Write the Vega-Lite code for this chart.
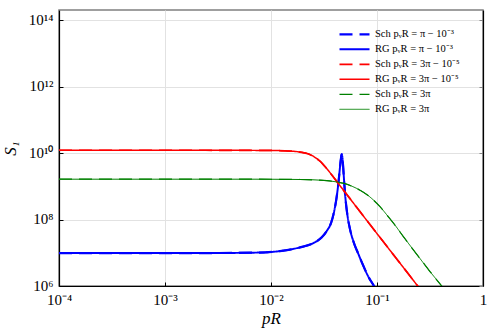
{
  "$schema": "https://vega.github.io/schema/vega-lite/v6.json",
  "width": 424,
  "height": 276,
  "autosize": {"type": "none"},
  "padding": {"left": 59, "top": 10, "right": 10, "bottom": 43},
  "background": "white",
  "config": {
    "view": {"stroke": "#808080", "strokeWidth": 1.5},
    "font": "Liberation Serif",
    "axis": {
      "domainColor": "#000000",
      "domainWidth": 1.2,
      "gridColor": "#e2e2e2",
      "gridWidth": 1,
      "tickColor": "#000000",
      "tickSize": -4,
      "labelFont": "Liberation Serif",
      "labelFontSize": 15,
      "labelColor": "#000000",
      "titleFont": "Liberation Serif",
      "titleFontSize": 17,
      "titleFontStyle": "italic",
      "titleFontWeight": "normal",
      "titleColor": "#000000"
    },
    "legend": {
      "title": null,
      "orient": "none",
      "legendX": 279,
      "legendY": 18,
      "padding": 0,
      "symbolType": "stroke",
      "symbolSize": 900,
      "clipHeight": 12.6,
      "rowPadding": 2,
      "labelOffset": 4,
      "labelFont": "Liberation Serif",
      "labelFontSize": 10.5,
      "labelColor": "#000000"
    }
  },
  "data": {
    "values": [
      {"k":"a","p":1e-4,"S":9.82e6},{"k":"a","p":2.14e-3,"S":9.82e6},{"k":"a","p":7.87e-3,"S":1.018e7},{"k":"a","p":0.01216,"S":1.13e7},{"k":"a","p":0.01511,"S":1.253e7},{"k":"a","p":0.01877,"S":1.459e7},{"k":"a","p":0.02332,"S":1.771e7},{"k":"a","p":0.02716,"S":2.255e7},{"k":"a","p":0.03029,"S":2.98e7},{"k":"a","p":0.03376,"S":4.67e7},{"k":"a","p":0.03681,"S":7.85e7},{"k":"a","p":0.03929,"S":1.682e8},{"k":"a","p":0.04148,"S":4.43e8},{"k":"a","p":0.04333,"S":1.343e9},{"k":"a","p":0.04476,"S":3.79e9},{"k":"a","p":0.04575,"S":7.08e9},{"k":"a","p":0.04645,"S":9.33e9},{"k":"a","p":0.04726,"S":7.08e9},{"k":"a","p":0.04831,"S":2.69e9},{"k":"a","p":0.04989,"S":6.27e8},{"k":"a","p":0.05212,"S":1.682e8},{"k":"a","p":0.05562,"S":5.18e7},{"k":"a","p":0.06067,"S":1.963e7},{"k":"a","p":0.06618,"S":9.82e6},{"k":"a","p":0.07378,"S":4.28e6},{"k":"a","p":0.08225,"S":2.0e6},{"k":"a","p":0.09369,"S":1e6},{"k":"a","p":0.1022,"S":6.15e5},
      {"k":"b","p":1e-4,"S":9.82e6},{"k":"b","p":2.14e-3,"S":9.82e6},{"k":"b","p":7.87e-3,"S":1.018e7},{"k":"b","p":0.01216,"S":1.13e7},{"k":"b","p":0.01511,"S":1.253e7},{"k":"b","p":0.01877,"S":1.459e7},{"k":"b","p":0.02332,"S":1.771e7},{"k":"b","p":0.02716,"S":2.255e7},{"k":"b","p":0.03029,"S":2.98e7},{"k":"b","p":0.03376,"S":4.67e7},{"k":"b","p":0.03681,"S":7.85e7},{"k":"b","p":0.03929,"S":1.682e8},{"k":"b","p":0.04148,"S":4.43e8},{"k":"b","p":0.04333,"S":1.343e9},{"k":"b","p":0.04476,"S":3.79e9},{"k":"b","p":0.04575,"S":7.08e9},{"k":"b","p":0.04645,"S":9.33e9},{"k":"b","p":0.04726,"S":7.08e9},{"k":"b","p":0.04831,"S":2.69e9},{"k":"b","p":0.04989,"S":6.27e8},{"k":"b","p":0.05212,"S":1.682e8},{"k":"b","p":0.05562,"S":5.18e7},{"k":"b","p":0.06067,"S":1.963e7},{"k":"b","p":0.06618,"S":9.82e6},{"k":"b","p":0.07378,"S":4.28e6},{"k":"b","p":0.08225,"S":2.0e6},{"k":"b","p":0.09369,"S":1e6},{"k":"b","p":0.1022,"S":6.15e5},
      {"k":"c","p":1e-4,"S":1.23e10},{"k":"c","p":2.14e-3,"S":1.23e10},{"k":"c","p":9.78e-3,"S":1.213e10},{"k":"c","p":0.01511,"S":1.164e10},{"k":"c","p":0.01877,"S":1.086e10},{"k":"c","p":0.02234,"S":9.66e9},{"k":"c","p":0.02545,"S":7.85e9},{"k":"c","p":0.029,"S":5.75e9},{"k":"c","p":0.03304,"S":3.66e9},{"k":"c","p":0.03763,"S":2.18e9},{"k":"c","p":0.04476,"S":1.054e9},{"k":"c","p":0.05562,"S":4.29e8},{"k":"c","p":0.0859,"S":7.08e7},{"k":"c","p":0.1327,"S":1.186e7},{"k":"c","p":0.2048,"S":2.0e6},{"k":"c","p":0.2421,"S":1e6},{"k":"c","p":0.2836,"S":5.25e5},
      {"k":"d","p":1e-4,"S":1.23e10},{"k":"d","p":2.14e-3,"S":1.23e10},{"k":"d","p":9.78e-3,"S":1.213e10},{"k":"d","p":0.01511,"S":1.164e10},{"k":"d","p":0.01877,"S":1.086e10},{"k":"d","p":0.02234,"S":9.66e9},{"k":"d","p":0.02545,"S":7.85e9},{"k":"d","p":0.029,"S":5.75e9},{"k":"d","p":0.03304,"S":3.66e9},{"k":"d","p":0.03763,"S":2.18e9},{"k":"d","p":0.04476,"S":1.054e9},{"k":"d","p":0.05562,"S":4.29e8},{"k":"d","p":0.0859,"S":7.08e7},{"k":"d","p":0.1327,"S":1.186e7},{"k":"d","p":0.2048,"S":2.0e6},{"k":"d","p":0.2421,"S":1e6},{"k":"d","p":0.2836,"S":5.25e5},
      {"k":"e","p":1e-4,"S":1.652e9},{"k":"e","p":6.34e-3,"S":1.652e9},{"k":"e","p":0.01877,"S":1.618e9},{"k":"e","p":0.029,"S":1.542e9},{"k":"e","p":0.04016,"S":1.39e9},{"k":"e","p":0.04989,"S":1.21e9},{"k":"e","p":0.05936,"S":9.83e8},{"k":"e","p":0.06913,"S":7.71e8},{"k":"e","p":0.08046,"S":5.65e8},{"k":"e","p":0.09169,"S":4.0e8},{"k":"e","p":0.1067,"S":2.46e8},{"k":"e","p":0.1243,"S":1.366e8},{"k":"e","p":0.1478,"S":6.84e7},{"k":"e","p":0.1759,"S":3.19e7},{"k":"e","p":0.2139,"S":1.39e7},{"k":"e","p":0.2545,"S":6.72e6},{"k":"e","p":0.3162,"S":2.73e6},{"k":"e","p":0.4076,"S":1e6},{"k":"e","p":0.4777,"S":5.25e5},
      {"k":"f","p":1e-4,"S":1.652e9},{"k":"f","p":6.34e-3,"S":1.652e9},{"k":"f","p":0.01877,"S":1.618e9},{"k":"f","p":0.029,"S":1.542e9},{"k":"f","p":0.04016,"S":1.39e9},{"k":"f","p":0.04989,"S":1.21e9},{"k":"f","p":0.05936,"S":9.83e8},{"k":"f","p":0.06913,"S":7.71e8},{"k":"f","p":0.08046,"S":5.65e8},{"k":"f","p":0.09169,"S":4.0e8},{"k":"f","p":0.1067,"S":2.46e8},{"k":"f","p":0.1243,"S":1.366e8},{"k":"f","p":0.1478,"S":6.84e7},{"k":"f","p":0.1759,"S":3.19e7},{"k":"f","p":0.2139,"S":1.39e7},{"k":"f","p":0.2545,"S":6.72e6},{"k":"f","p":0.3162,"S":2.73e6},{"k":"f","p":0.4076,"S":1e6},{"k":"f","p":0.4777,"S":5.25e5}
    ]
  },
  "layer": [
    {
      "mark": {"type": "line", "clip": true, "interpolate": "monotone"},
      "encoding": {
        "x": {
          "field": "p", "type": "quantitative",
          "scale": {"type": "log", "domain": [0.0001, 1], "nice": false},
          "axis": {
            "title": "pR",
            "values": [0.0001, 0.001, 0.01, 0.1, 1],
            "labelExpr": "datum.value >= 1 ? '1' : datum.value >= 0.1 ? '10⁻¹' : datum.value >= 0.01 ? '10⁻²' : datum.value >= 0.001 ? '10⁻³' : '10⁻⁴'",
            "labelPadding": 10,
            "labelFlush": false,
            "titleY": 37,
            "titleBaseline": "alphabetic"
          }
        },
        "y": {
          "field": "S", "type": "quantitative",
          "scale": {"type": "log", "domain": [1000000, 207000000000000], "nice": false},
          "axis": {
            "title": "S₁",
            "values": [1000000, 100000000, 10000000000, 1000000000000, 100000000000000],
            "labelExpr": "datum.value >= 1e14 ? '10¹⁴' : datum.value >= 1e12 ? '10¹²' : datum.value >= 1e10 ? '10¹⁰' : datum.value >= 1e8 ? '10⁸' : '10⁶'",
            "labelPadding": 10,
            "labelOffset": -1,
            "labelFlush": false,
            "titleX": -40,
            "titleY": 138,
            "titleAngle": -90,
            "titleBaseline": "bottom"
          }
        },
        "color": {
          "field": "k", "type": "nominal",
          "scale": {"domain": ["a","b","c","d","e","f"], "range": ["#0000ff","#0000ff","#ff0000","#ff0000","#008000","#008000"]},
          "legend": {
            "labelExpr": "{'a':'Sch pᵥR = π − 10⁻³','b':'RG pᵥR = π − 10⁻³','c':'Sch pᵥR = 3π − 10⁻⁵','d':'RG pᵥR = 3π − 10⁻⁵','e':'Sch pᵥR = 3π','f':'RG pᵥR = 3π'}[datum.label]"
          }
        },
        "strokeDash": {
          "field": "k", "type": "nominal",
          "scale": {"domain": ["a","b","c","d","e","f"], "range": [[13,7],[1,0],[13,7],[1,0],[13,7],[1,0]]},
          "legend": {
            "labelExpr": "{'a':'Sch pᵥR = π − 10⁻³','b':'RG pᵥR = π − 10⁻³','c':'Sch pᵥR = 3π − 10⁻⁵','d':'RG pᵥR = 3π − 10⁻⁵','e':'Sch pᵥR = 3π','f':'RG pᵥR = 3π'}[datum.label]"
          }
        },
        "strokeWidth": {
          "field": "k", "type": "nominal",
          "scale": {"domain": ["a","b","c","d","e","f"], "range": [2.2,1,2.2,1,2.2,1]},
          "legend": {
            "labelExpr": "{'a':'Sch pᵥR = π − 10⁻³','b':'RG pᵥR = π − 10⁻³','c':'Sch pᵥR = 3π − 10⁻⁵','d':'RG pᵥR = 3π − 10⁻⁵','e':'Sch pᵥR = 3π','f':'RG pᵥR = 3π'}[datum.label]"
          }
        }
      }
    },
    {
      "mark": {"type": "line", "opacity": 0, "clip": true},
      "encoding": {
        "x": {"field": "p", "type": "quantitative", "scale": {"type": "log", "domain": [0.0001, 1], "nice": false}},
        "y": {
          "field": "S", "type": "quantitative",
          "scale": {"type": "log", "domain": [1000000, 207000000000000], "nice": false},
          "axis": {
            "orient": "right",
            "title": null,
            "labels": false,
            "grid": false,
            "values": [1000000, 100000000, 10000000000, 1000000000000, 100000000000000],
            "tickColor": "#888888",
            "domainColor": "#000000"
          }
        }
      }
    }
  ],
  "resolve": {"axis": {"y": "independent"}}
}
